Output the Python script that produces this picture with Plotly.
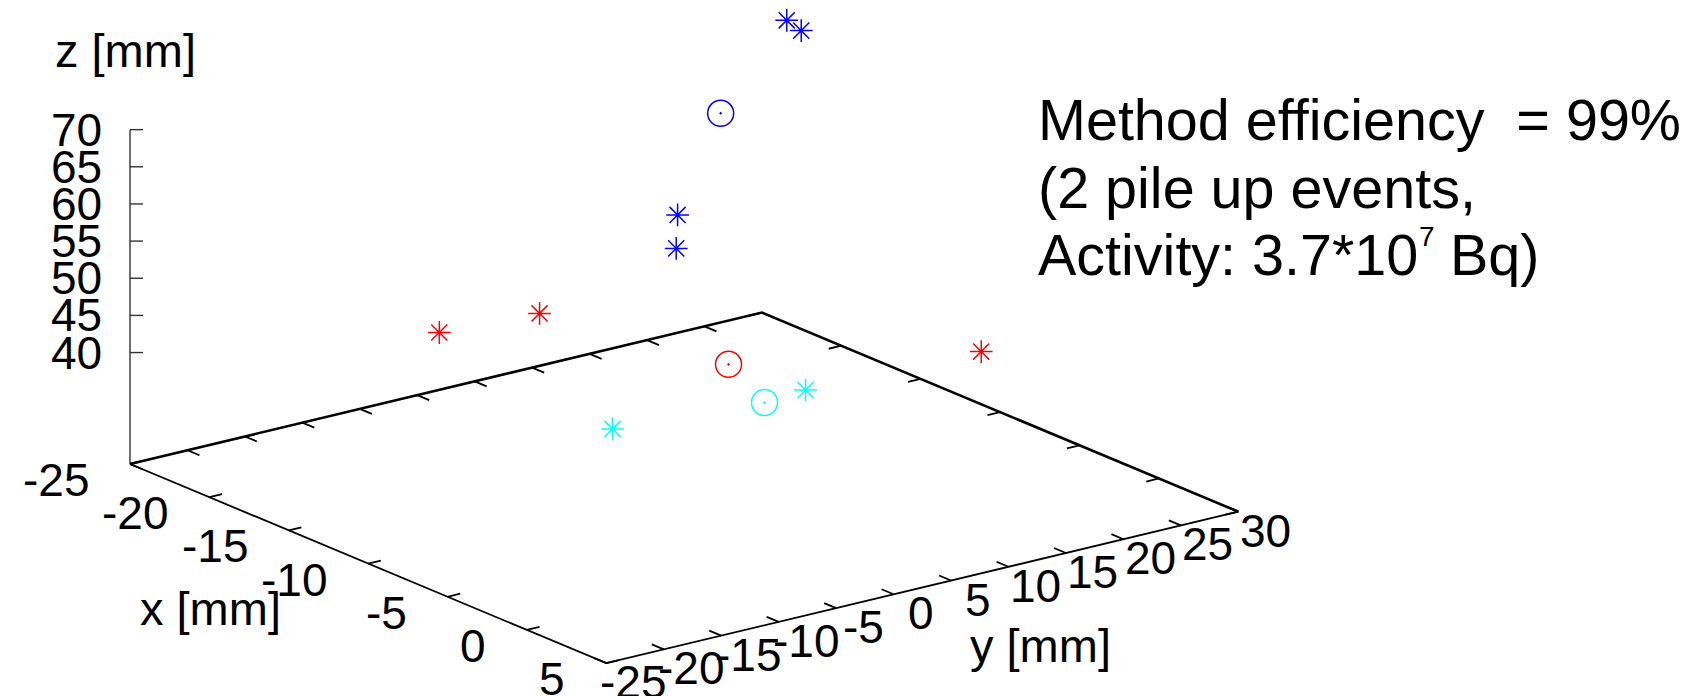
import numpy as np
import plotly.graph_objects as go

# ---- axis set-up (gnuplot-style splot box) ----
X_RANGE = (-25, 5)
Y_RANGE = (-25, 30)
Z_RANGE = (40, 70)
TICSLEVEL = 0.5

x_ticks = [-25, -20, -15, -10, -5, 0, 5]
y_ticks = [-25, -20, -15, -10, -5, 0, 5, 10, 15, 20, 25, 30]
z_ticks = [40, 45, 50, 55, 60, 65, 70]

# ---- hit positions [mm] ----
blue_hits_x = [-20.4, -20.5, -12.8, -13.9]
blue_hits_y = [25.8, 27.2, 5.8, 7.2]
blue_hits_z = [70.0, 68.0, 58.0, 52.0]
blue_vertex_x = [-18.7]
blue_vertex_y = [17.7]
blue_vertex_z = [62.0]

red_hits_x = [-18.4, -16.5, -2.0]
red_hits_y = [-7.2, -1.1, 17.3]
red_hits_z = [42.0, 44.0, 45.0]
red_vertex_x = [-8.0]
red_vertex_y = [3.6]
red_vertex_z = [43.0]

cyan_hits_x = [-5.9, -5.9]
cyan_hits_y = [-9.4, 7.4]
cyan_hits_z = [41.0, 40.0]
cyan_vertex_x = [-5.3]
cyan_vertex_y = [3.0]
cyan_vertex_z = [40.5]

# ---- orthographic view: page-pixel frame of the projected box ----
W, H = 1700, 696
ORIGIN = (130.0, 464.0)          # corner x=-25, y=-25 on the base plane
EX = (15.878, 6.638)             # per mm along x
EY = (11.49, -2.754)             # per mm along y
EZ = (0.0, -7.43)                # per mm along z
Z_BASE = Z_RANGE[0] - TICSLEVEL * (Z_RANGE[1] - Z_RANGE[0])
TICK_LEN = 13.0

FONT = "Liberation Sans, Arial, sans-serif"


def project(x, y, z):
    dx = np.asarray(x, float) - X_RANGE[0]
    dy = np.asarray(y, float) - Y_RANGE[0]
    dz = np.asarray(z, float) - Z_BASE
    sx = ORIGIN[0] + dx * EX[0] + dy * EY[0] + dz * EZ[0]
    sy = ORIGIN[1] + dx * EX[1] + dy * EY[1] + dz * EZ[1]
    return sx, sy


def unit(v):
    n = np.hypot(v[0], v[1])
    return v[0] / n, v[1] / n


fig = go.Figure()


def seg_trace(xs, ys, width, color="black"):
    fig.add_trace(go.Scatter(x=xs, y=ys, mode="lines",
                             line=dict(color=color, width=width),
                             hoverinfo="skip", showlegend=False))


x0, x1 = X_RANGE
y0, y1 = Y_RANGE

# base plane border
bx, by = project([x1, x0, x0], [y1, y1, y0], [Z_BASE] * 3)   # back edges
seg_trace(list(bx), list(by), 2.6)
fx, fy = project([x0, x1, x1], [y0, y0, y1], [Z_BASE] * 3)   # front edges
seg_trace(list(fx), list(fy), 1.8)

# vertical z axis
zx, zy = project([x0, x0], [y0, y0], [Z_BASE, Z_RANGE[1]])
seg_trace(list(zx), list(zy), 1.4, "#333333")

# tick marks
ux, uy = unit(EY)
vx, vy = unit(EX)
tx, ty = [], []
for xv in x_ticks:
    px, py = project(xv, y0, Z_BASE)
    tx += [px, px + TICK_LEN * ux, None]
    ty += [py, py + TICK_LEN * uy, None]
    px, py = project(xv, y1, Z_BASE)
    tx += [px, px - TICK_LEN * ux, None]
    ty += [py, py - TICK_LEN * uy, None]
for yv in y_ticks:
    px, py = project(x1, yv, Z_BASE)
    tx += [px, px - TICK_LEN * vx, None]
    ty += [py, py - TICK_LEN * vy, None]
    px, py = project(x0, yv, Z_BASE)
    tx += [px, px + TICK_LEN * vx, None]
    ty += [py, py + TICK_LEN * vy, None]
seg_trace(tx, ty, 1.8)

ztx, zty = [], []
for zv in z_ticks:
    px, py = project(x0, y0, zv)
    ztx += [px, px + TICK_LEN, None]
    zty += [py, py, None]
seg_trace(ztx, zty, 1.4, "#333333")

# ---- points ----
def add_points(xs, ys, zs, color, symbol, size):
    sx, sy = project(xs, ys, zs)
    fig.add_trace(go.Scatter(
        x=sx, y=sy, mode="markers",
        marker=dict(symbol=symbol, size=size, color=color,
                    line=dict(color=color, width=1.5)),
        showlegend=False, hoverinfo="skip"))


add_points(blue_hits_x, blue_hits_y, blue_hits_z, "#0000ff", "asterisk-open", 19)
add_points(blue_vertex_x, blue_vertex_y, blue_vertex_z, "#0000ff", "circle-open-dot", 26)
add_points(red_hits_x, red_hits_y, red_hits_z, "#ff0000", "asterisk-open", 19)
add_points(red_vertex_x, red_vertex_y, red_vertex_z, "#ff0000", "circle-open-dot", 26)
add_points(cyan_hits_x, cyan_hits_y, cyan_hits_z, "#00ffff", "asterisk-open", 19)
add_points(cyan_vertex_x, cyan_vertex_y, cyan_vertex_z, "#00ffff", "circle-open-dot", 26)

# ---- text ----
annotations = []
TICK_FONT = dict(family=FONT, size=46, color="black")
LABEL_FONT = dict(family=FONT, size=47, color="black")


def label(x, y, text, font, xanchor="center", yanchor="middle"):
    annotations.append(dict(x=x, y=y, xref="x", yref="y", text=text,
                            showarrow=False, font=font,
                            xanchor=xanchor, yanchor=yanchor))


for xv in x_ticks:
    px, py = project(xv, y0, Z_BASE)
    label(px - 39, py + 16, str(xv), TICK_FONT, xanchor="right")
for yv in y_ticks:
    px, py = project(x1, yv, Z_BASE)
    label(px + 27, py + 19, str(yv), TICK_FONT)
for zv in z_ticks:
    px, py = project(x0, y0, zv)
    label(px - 26, py, str(zv), TICK_FONT, xanchor="right")

label(53, 50, "z [mm]", LABEL_FONT, xanchor="left")
label(210, 608, "x [mm]", LABEL_FONT)
label(1040, 645, "y [mm]", LABEL_FONT)

# info box (Arial/Liberation advance widths, 1/1000 em, for placing the exponent)
INFO_SIZE = 57.5
SUP_SIZE = 28
ADVANCE = {"A": 667, "c": 500, "t": 278, "i": 222, "v": 500, "y": 500,
           ":": 278, " ": 278, "3": 556, ".": 278, "7": 556, "*": 389,
           "1": 556, "0": 556, "B": 667, "q": 556, ")": 333}


def text_width(s, size):
    return sum(ADVANCE[c] for c in s) / 1000.0 * size


INFO_FONT = dict(family=FONT, size=INFO_SIZE, color="black")
SUP_FONT = dict(family=FONT, size=SUP_SIZE, color="black")
INFO_X, INFO_Y, INFO_DY = 1036, 120, 67.5
activity_base = "Activity: 3.7*10"
activity_exp = "7"
activity_tail = "\u00a0Bq)"

label(INFO_X, INFO_Y, "Method efficiency\u00a0 = 99%", INFO_FONT, xanchor="left")
label(INFO_X, INFO_Y + INFO_DY, "(2 pile up events,", INFO_FONT, xanchor="left")
line3_y = INFO_Y + 2 * INFO_DY
label(INFO_X, line3_y, activity_base, INFO_FONT, xanchor="left")
exp_x = INFO_X + text_width(activity_base, INFO_SIZE) + 1
label(exp_x, line3_y - 19, activity_exp, SUP_FONT, xanchor="left")
tail_x = exp_x + text_width(activity_exp, SUP_SIZE) - 1
label(tail_x, line3_y, activity_tail, INFO_FONT, xanchor="left")

fig.update_layout(
    width=W, height=H,
    margin=dict(l=0, r=0, t=0, b=0),
    paper_bgcolor="white", plot_bgcolor="white",
    xaxis=dict(range=[0, W], visible=False, fixedrange=True),
    yaxis=dict(range=[H, 0], visible=False, fixedrange=True),
    annotations=annotations,
    showlegend=False,
)

fig.write_html("out.html")
